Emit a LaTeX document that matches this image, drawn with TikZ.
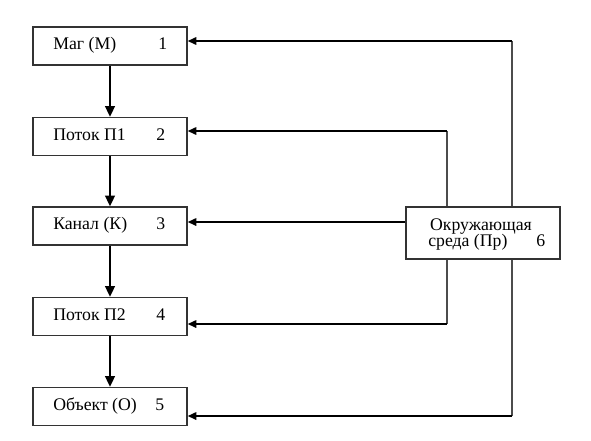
\documentclass[tikz,border=0pt]{standalone}
\usepackage{fontspec}
\setmainfont{Liberation Serif}
\usetikzlibrary{arrows.meta,calc}
\begin{document}
\begin{tikzpicture}[x=0.75pt,y=-0.75pt,
  blk/.style={draw=black!80,line width=0.9pt,minimum width=115.5pt,minimum height=28.5pt,inner sep=0pt},
  txt/.style={anchor=base west,inner sep=0pt,font=\fontsize{13.3}{15}\selectfont},
  down/.style={line width=2pt,-{Triangle[length=8pt,width=7pt]}},
  feed/.style={line width=1.5pt,-{Triangle[length=6.5pt,width=5.5pt]}},
  vline/.style={draw=black!70,line width=0.9pt}]
\useasboundingbox (0,0) rectangle (591,440);
\node[blk] (b1) at (110,46) {};
\node[blk] (b2) at (110,136.5) {};
\node[blk] (b3) at (110,226) {};
\node[blk] (b4) at (110,316.5) {};
\node[blk] (b5) at (110,406.5) {};
\node[blk,minimum height=39pt] (b6) at (483,233) {};
\node[txt] (t1) at (53,49.5) {Маг (М)};
\node[txt] (n1) at (158,49.5) {1};
\node[txt] (t2) at (53,140) {Поток П1};
\node[txt] (n2) at (156,140) {2};
\node[txt] (t3) at (53,229.5) {Канал (К)};
\node[txt] (n3) at (156,229.5) {3};
\node[txt] (t4) at (53,320) {Поток П2};
\node[txt] (n4) at (156,320) {4};
\node[txt] (t5) at (53,410) {Объект (О)};
\node[txt] (n5) at (155,410) {5};
\node[txt,anchor=base] (t6a) at (481,230) {Окружающая};
\node[txt] (t6b) at (428,246) {среда (Пр)};
\node[txt] (n6) at (536,246) {6};
\draw[down] (b1.south) -- (b2.north);
\draw[down] (b2.south) -- (b3.north);
\draw[down] (b3.south) -- (b4.north);
\draw[down] (b4.south) -- (b5.north);
\coordinate (c1) at (512,41);
\coordinate (c2) at (447,131);
\coordinate (c3) at ($(b6.west)+(0,-11)$);
\coordinate (c4) at (447,324);
\coordinate (c5) at (512,416);
\draw[vline] (b6.north -| c1) -- (c1);
\draw[vline] (b6.north -| c2) -- (c2);
\draw[vline] (b6.south -| c4) -- (c4);
\draw[vline] (b6.south -| c5) -- (c5);
\draw[feed] (c1) -- (c1 -| b1.east);
\draw[feed] (c2) -- (c2 -| b2.east);
\draw[feed] (c3) -- (c3 -| b3.east);
\draw[feed] (c4) -- (c4 -| b4.east);
\draw[feed] (c5) -- (c5 -| b5.east);
\end{tikzpicture}
\end{document}
